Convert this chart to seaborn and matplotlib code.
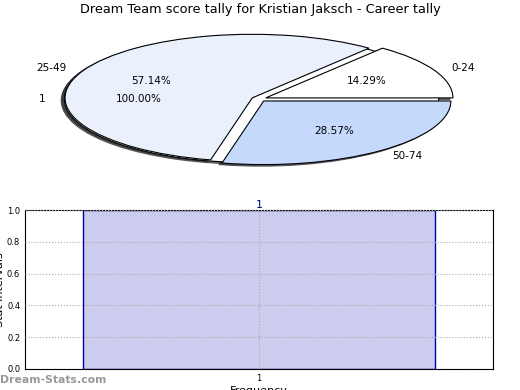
import matplotlib
matplotlib.use("Agg")
import matplotlib.pyplot as plt
import seaborn as sns
import pandas as pd

# score tally (pie)
score_ranges = ["0-24", "25-49", "50-74"]
score_counts = [1, 4, 2]
score_colors = ["#ffffff", "#eaf1fd", "#c5d9fd"]
# overlaid full pie drawn underneath
full_labels = ["1"]
full_counts = [1]

# frequency bar
freq_labels = ["1"]
freq_values = [1]

sns.set_style("white")
plt.rcParams['font.family'] = ['DejaVu Sans']
plt.rcParams.update({"text.color": "black", "axes.labelcolor": "black",
                     "xtick.color": "black", "ytick.color": "black"})

fig = plt.figure(figsize=(5.2, 3.9), dpi=100)

shadow_opts = {"ox": -0.012, "oy": -0.018, "shade": 0.8, "alpha": 0.7}

# pie chart (stretched, old-style)
ax1 = fig.add_axes([25 / 520, 1 - 178.5 / 390, 468 / 520, 159 / 390])
ax1.pie(full_counts, labels=full_labels, colors=["#ffffff"], autopct="%1.2f%%",
        explode=[0.04], shadow=shadow_opts, startangle=0, textprops={"fontsize": 7.5},
        wedgeprops={"edgecolor": "black", "linewidth": 0.8})
ax1.pie(score_counts, labels=score_ranges, colors=score_colors, autopct="%1.2f%%",
        explode=[0.04, 0.04, 0.04], shadow=shadow_opts, startangle=0,
        textprops={"fontsize": 7.5},
        wedgeprops={"edgecolor": "black", "linewidth": 0.8})
ax1.set_aspect("auto")
ax1.set_xlim(-1.25, 1.25)
ax1.set_ylim(-1.25, 1.25)
fig.text(0.5, 1 - 10 / 390, "Dream Team score tally for Kristian Jaksch - Career tally",
         ha="center", va="center", fontsize=9.3)

# bar chart
ax2 = fig.add_axes([25 / 520, 1 - 369 / 390, 468 / 520, 159 / 390])
df = pd.DataFrame({"freq": freq_labels, "value": freq_values})
sns.barplot(data=df, x="freq", y="value", ax=ax2, width=0.75,
            color="#ccccee", edgecolor="#0000aa", linewidth=1, saturation=1)
ax2.set_xlim(-0.5, 0.5)
ax2.set_ylim(0, 1.0)
ax2.set_yticks([0.0, 0.2, 0.4, 0.6, 0.8, 1.0])
ax2.tick_params(labelsize=6, direction="in", length=2)
ax2.grid(True, linestyle=":", color="#aaaaaa", linewidth=0.8)
ax2.set_axisbelow(False)
for s in ax2.spines.values():
    s.set_color("black")
    s.set_linewidth(0.8)
for i, v in enumerate(freq_values):
    ax2.text(i, v, str(v), ha="center", va="bottom", color="#000088", fontsize=8)
ax2.set_xlabel("Frequency", fontsize=8, labelpad=2)
ax2.set_ylabel("Stat intervals", fontsize=8, labelpad=1)

fig.text(0.0, 1 - 380 / 390, "Dream-Stats.com", ha="left", va="center",
         fontsize=7.8, color="#999999", fontweight="bold")

fig.savefig("out.png", dpi=100)
